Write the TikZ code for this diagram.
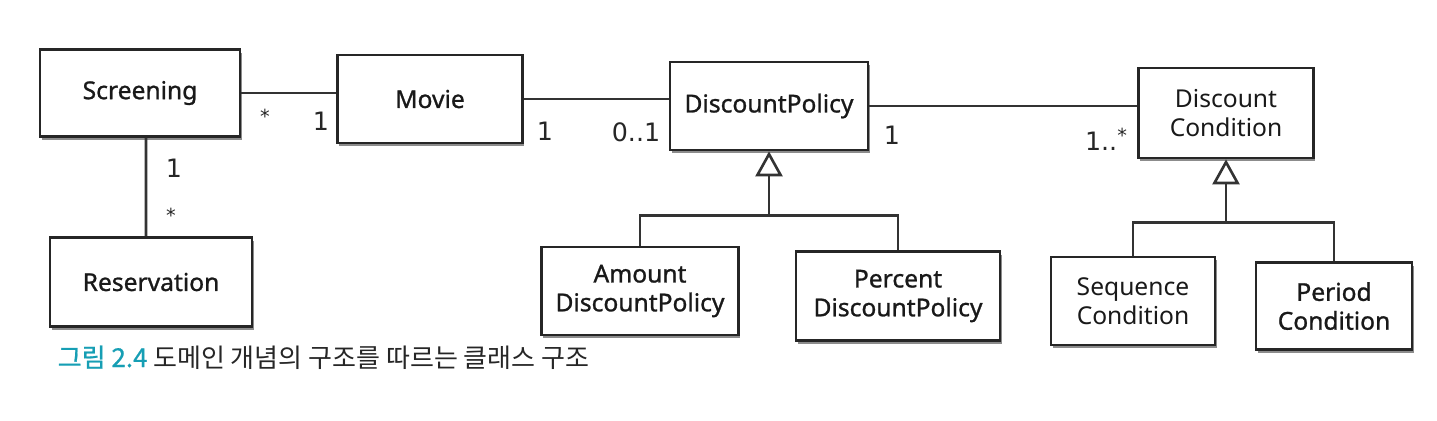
\documentclass[tikz,border=0pt]{standalone}
\usepackage{fontspec}
\setmainfont{Noto Sans}
\newfontfamily\boxfont{Noto Sans}[BoldFont=Noto Sans, BoldFeatures={FakeBold=1.0}]
\newfontfamily\krfont{Noto Sans CJK KR}[BoldFont=Noto Sans CJK KR, BoldFeatures={FakeBold=0.8}]
\newfontfamily\labfont{DejaVu Sans}
\usetikzlibrary{arrows.meta,shadows}
\definecolor{capteal}{RGB}{22,158,180}
\begin{document}
\begin{tikzpicture}[x=0.01cm,y=-0.01cm,
  cls/.style={draw=black!85, line width=0.75pt, fill=white, align=center,
    font=\boxfont\fontsize{7}{8.2}\selectfont, text=black!90, inner sep=0pt,
    drop shadow={shadow xshift=0.5pt, shadow yshift=-0.9pt, opacity=0.45, fill=black}},
  dark/.style={font=\boxfont\bfseries\fontsize{7}{8.2}\selectfont},
  lab/.style={font=\labfont\fontsize{7.2}{8}\selectfont, inner sep=0pt, text=black!85},
  star/.style={font=\labfont\fontsize{5.5}{6}\selectfont, inner sep=0pt, text=black!85},
  conn/.style={draw=black!80, line width=0.75pt},
  gen/.style={conn, -{Triangle[open, length=0.25cm, width=0.27cm, line width=0.75pt]}}
]
\useasboundingbox (0,0) rectangle (1437,420);

% classes
\node[cls, dark, minimum width=2.00cm, minimum height=0.87cm] (scr) at (140,93)  {Screening};
\node[cls, dark, minimum width=1.85cm, minimum height=0.88cm] (mov) at (430,99)  {Movie};
\node[cls, dark, minimum width=1.98cm, minimum height=0.88cm] (dp)  at (769,106) {DiscountPolicy};
\node[cls, minimum width=1.75cm, minimum height=0.90cm] (dc)  at (1226,113) {Discount\\Condition};
\node[cls, dark, minimum width=2.02cm, minimum height=0.89cm] (res) at (151,282) {Reservation};
\node[cls, dark, minimum width=1.97cm, minimum height=0.88cm] (adp) at (640,291) {Amount\\DiscountPolicy};
\node[cls, dark, minimum width=2.04cm, minimum height=0.89cm] (pdp) at (898,296) {Percent\\DiscountPolicy};
\node[cls, minimum width=1.64cm, minimum height=0.88cm] (sc)  at (1133,301) {Sequence\\Condition};
\node[cls, dark, minimum width=1.56cm, minimum height=0.87cm] (pc)  at (1334,306) {Period\\Condition};

% associations
\draw[conn] (scr.east) -- (scr.east -| mov.west);
\draw[conn] (mov.east) -- (mov.east -| dp.west);
\draw[conn] (dp.east) -- (dp.east -| dc.west);
\draw[conn] ([xshift=0.6mm]scr.south) -- ([xshift=-0.5mm]res.north);

% multiplicities
\node[star] (m1) at (265,116) {*};
\node[lab] (m2) at (321,121) {1};
\node[lab] (m3) at (545,131) {1};
\node[lab] (m4) at (636,132) {0..1};
\node[lab] (m5) at (892,135) {1};
\node[lab] (m6) at (1106,139) {1..\raisebox{0.55ex}{\fontsize{5.5}{6}\selectfont*}};
\node[lab] (m7) at (174,168) {1};
\node[star] (m8) at (171,215) {*};

% generalizations
\path (dp.south) ++(0,64) coordinate (b1);
\draw[conn] (adp.north) |- (b1) -| (pdp.north);
\draw[gen] (b1) -- (dp.south);
\path (dc.south) ++(0,63) coordinate (b2);
\draw[conn] (sc.north) |- (b2) -| (pc.north);
\draw[gen] (b2) -- (dc.south);

% caption
\node[anchor=base west, inner sep=0pt, font=\krfont\fontsize{7.4}{8}\selectfont, text=black!85] (cap) at (57,367)
  {\textcolor{capteal}{\bfseries 그림 2.4} 도메인 개념의 구조를 따르는 클래스 구조};
\end{tikzpicture}
\end{document}
